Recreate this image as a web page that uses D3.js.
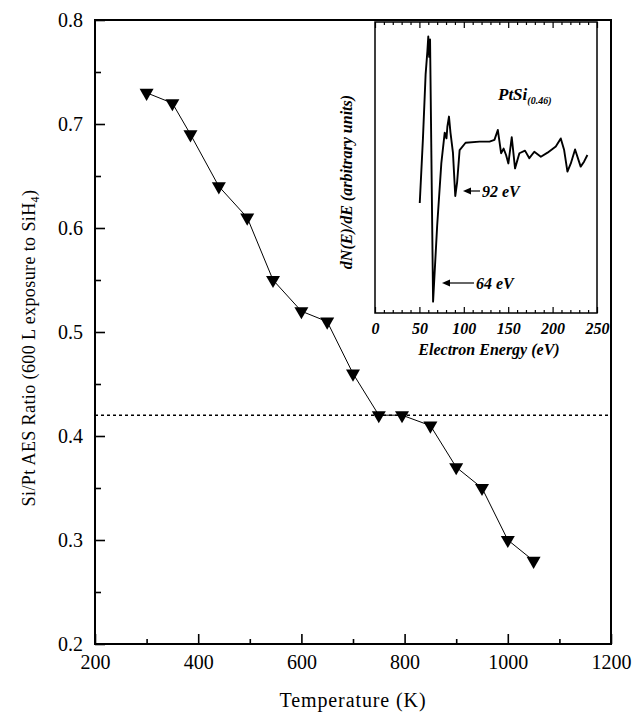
<!DOCTYPE html>
<meta charset="utf-8">
<style>
    body { margin: 0; background: #fff; }
    .axis line { stroke: #000; stroke-width: 1.6; }
    .inset .axis line { stroke-width: 1.2; }
</style>
<body>
<script src="https://cdn.jsdelivr.net/npm/d3@7"></script>
<script>
    var width = 633,
        height = 713

    // main data: Si/Pt ratio vs anneal temperature
    var temps = [300, 350, 385, 440, 495, 545, 600, 650, 700, 750, 795, 850, 900, 950, 1000, 1050]
    var ratios = [0.73, 0.72, 0.69, 0.64, 0.61, 0.55, 0.52, 0.51, 0.46, 0.42, 0.42, 0.41, 0.37, 0.35, 0.30, 0.28]
    var threshold = 0.42

    var xTicks = [200, 400, 600, 800, 1000, 1200]
    var xMinor = [300, 500, 700, 900, 1100]
    var yTicks = [0.2, 0.3, 0.4, 0.5, 0.6, 0.7, 0.8]
    var yMinor = [0.25, 0.35, 0.45, 0.55, 0.65, 0.75]

    // inset AES spectrum (arbitrary units)
    var energy = [50.4, 54, 57, 59, 60, 61, 62, 65.4, 70, 74.7, 78.5, 80.5, 81.5, 83.3, 85, 87.8, 90.4, 92.5, 95.3, 102,
        117.7, 129, 134.5, 138.3, 142, 144.8, 147.6, 150.2, 154, 157.7, 162.6, 168.9, 173.8, 179.4, 186.8, 194.3,
        203.6, 209.2, 213, 216.7, 220.5, 225.3, 231.6, 235.4, 239.2]
    var signal = [37.8, 60, 82, 90, 95, 88, 94, 3.9, 30, 51.5, 62, 60, 64, 67.5, 62, 55, 40.2, 45, 56, 58.5,
        58.9, 58.9, 59.5, 62.9, 54.9, 56.5, 54.3, 51.4, 60.4, 49.7, 54.9, 55.8, 53.2, 55.4, 53.7, 55.1,
        57.2, 60, 56, 48.6, 51.4, 56.2, 50.3, 52, 54.3]
    var insetTicks = [0, 50, 100, 150, 200, 250]
    var insetMinor = d3.range(0, 251, 10).filter(function(d) { return d % 50 != 0 })

    var serif = "Liberation Serif"

    var svg = d3.select("body").append("svg")
        .attr("width", width)
        .attr("height", height)
        .attr("font-family", serif)

    var x = d3.scaleLinear().domain([200, 1200]).range([95, 611])
    var y = d3.scaleLinear().domain([0.2, 0.8]).range([644, 20])

    // axes, ticks pointing inward
    var xAxis = svg.append("g").attr("class", "axis")
        .attr("transform", "translate(0," + y(0.2) + ")")
        .call(d3.axisBottom(x).tickValues(xTicks).tickSize(-10).tickPadding(11).tickFormat(d3.format("d")))
    xAxis.append("g")
        .call(d3.axisBottom(x).tickValues(xMinor).tickSize(-5).tickFormat(""))

    var yAxis = svg.append("g").attr("class", "axis")
        .attr("transform", "translate(" + x(200) + ",0)")
        .call(d3.axisLeft(y).tickValues(yTicks).tickSize(-10).tickPadding(12).tickFormat(d3.format(".1f")))
    yAxis.append("g")
        .call(d3.axisLeft(y).tickValues(yMinor).tickSize(-6).tickFormat(""))

    svg.selectAll(".axis .domain").remove()
    svg.selectAll(".axis").attr("font-family", serif).attr("font-size", 20)

    svg.append("rect")
        .attr("x", x(200)).attr("y", y(0.8))
        .attr("width", x(1200) - x(200)).attr("height", y(0.2) - y(0.8))
        .attr("fill", "none").attr("stroke", "#000").attr("stroke-width", 2)

    // dotted reference line
    svg.append("line")
        .attr("x1", x(200)).attr("x2", x(1200))
        .attr("y1", y(threshold)).attr("y2", y(threshold))
        .attr("stroke", "#000").attr("stroke-width", 1.4)
        .attr("stroke-dasharray", "3,3")

    var pts = temps.map(function(t, i) { return [t, ratios[i]] })

    svg.append("path")
        .datum(pts)
        .attr("fill", "none").attr("stroke", "#000").attr("stroke-width", 1)
        .attr("d", d3.line().x(function(d) { return x(d[0]) }).y(function(d) { return y(d[1]) }))

    svg.selectAll(".pt")
        .data(pts)
        .enter().append("path")
        .attr("class", "pt")
        .attr("d", d3.symbol().type(d3.symbolTriangle).size(85))
        .attr("transform", function(d) { return "translate(" + x(d[0]) + "," + y(d[1]) + ") rotate(180)" })
        .attr("fill", "#000")

    svg.append("text")
        .attr("x", 353).attr("y", 707)
        .attr("text-anchor", "middle")
        .attr("font-size", 20)
        .attr("letter-spacing", 0.9)
        .text("Temperature (K)")

    var ylab = svg.append("text")
        .attr("transform", "translate(35,348) rotate(-90)")
        .attr("text-anchor", "middle")
        .attr("font-size", 18)
        .attr("letter-spacing", 0.4)
    ylab.append("tspan").text("Si/Pt AES Ratio (600 L exposure to SiH")
    ylab.append("tspan").attr("font-size", 12).attr("dy", 4).text("4")
    ylab.append("tspan").attr("dy", -4).text(")")

    // ---- inset ----
    var inset = svg.append("g").attr("class", "inset")
        .attr("font-weight", "bold").attr("font-style", "italic").attr("font-size", 16)
    var ix = d3.scaleLinear().domain([0, 250]).range([375, 597])
    var iy = d3.scaleLinear().domain([0, 100]).range([313, 22])

    var ixAxis = inset.append("g").attr("class", "axis")
        .attr("transform", "translate(0," + iy(0) + ")")
        .call(d3.axisBottom(ix).tickValues(insetTicks).tickSize(-6).tickPadding(10))
    ixAxis.append("g").call(d3.axisBottom(ix).tickValues(insetMinor).tickSize(-3).tickFormat(""))

    var ixTop = inset.append("g").attr("class", "axis")
        .attr("transform", "translate(0," + iy(100) + ")")
        .call(d3.axisTop(ix).tickValues(insetTicks).tickSize(-6).tickFormat(""))
    ixTop.append("g").call(d3.axisTop(ix).tickValues(insetMinor).tickSize(-3).tickFormat(""))

    inset.selectAll(".domain").remove()
    inset.selectAll(".axis").attr("font-family", serif).attr("font-size", 16)

    inset.append("rect")
        .attr("x", ix(0)).attr("y", iy(100))
        .attr("width", ix(250) - ix(0)).attr("height", iy(0) - iy(100))
        .attr("fill", "none").attr("stroke", "#000").attr("stroke-width", 1.5)

    inset.append("path")
        .datum(energy.map(function(e, i) { return [e, signal[i]] }))
        .attr("fill", "none").attr("stroke", "#000").attr("stroke-width", 1.9)
        .attr("stroke-linejoin", "round")
        .attr("d", d3.line().x(function(d) { return ix(d[0]) }).y(function(d) { return iy(d[1]) }))

    inset.append("text")
        .attr("x", 489).attr("y", 355)
        .attr("text-anchor", "middle")
        .text("Electron Energy (eV)")

    inset.append("text")
        .attr("transform", "translate(352,182) rotate(-90)")
        .attr("text-anchor", "middle")
        .text("dN(E)/dE (arbitrary units)")

    var lab = inset.append("text").attr("x", 498).attr("y", 100).attr("font-size", 17)
    lab.append("tspan").text("PtSi")
    lab.append("tspan").attr("font-size", 10).attr("dy", 4).text("(0.46)")

    // arrows to the two minima
    function arrow(x1, x2, yy) {
        inset.append("line")
            .attr("x1", x1).attr("x2", x2 + 6).attr("y1", yy).attr("y2", yy)
            .attr("stroke", "#000").attr("stroke-width", 1.2)
        inset.append("path")
            .attr("d", "M" + x2 + "," + yy + "l8,-3.5l0,7z")
            .attr("fill", "#000")
    }
    arrow(480, 463, 191)
    arrow(474, 442, 283)

    inset.append("text").attr("x", 482).attr("y", 197).text("92 eV")
    inset.append("text").attr("x", 476).attr("y", 289).text("64 eV")

    svg.selectAll("text").attr("font-family", serif).attr("fill", "#000")
</script>
</body>
